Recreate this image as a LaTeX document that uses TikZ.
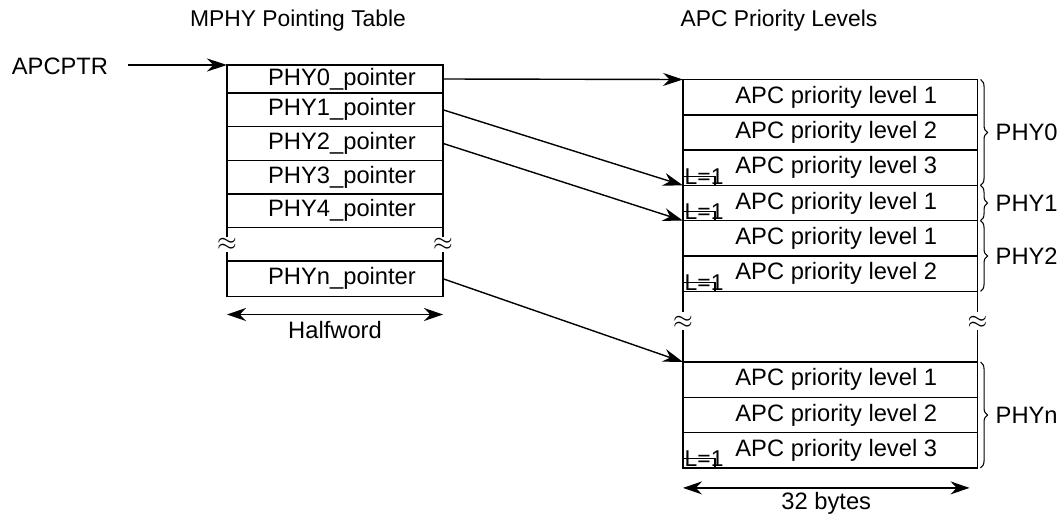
\documentclass[tikz,border=0pt]{standalone}
\usepackage{fontspec}
\setmainfont{Liberation Sans}
\usetikzlibrary{arrows.meta,positioning,calc,decorations.pathreplacing}

\begin{document}
\begin{tikzpicture}[
  x=0.2mm, y=-0.2mm,
  font=\fontsize{13.5}{15}\selectfont,
  line width=0.8pt,
  ptr/.style={rectangle,draw,outer sep=0pt,inner sep=0pt,
              minimum width=43.2mm,minimum height=6.72mm,
              execute at begin node=\hspace*{2.8mm}},
  lvl/.style={rectangle,draw,outer sep=0pt,inner sep=0pt,
              minimum width=58.9mm,minimum height=7.06mm,
              execute at begin node=\hspace*{2.4mm}},
  arr/.style={-{Stealth[length=4mm,width=2.6mm]}},
  dim/.style={{Stealth[length=3.8mm,width=2.6mm]}-{Stealth[length=3.8mm,width=2.6mm]}},
  grp/.style={decorate,decoration={brace,amplitude=4pt},line width=0.6pt},
  brk/.style={font=\fontsize{15}{15}\selectfont},
  flag/.style={font=\fontsize{13}{13}\selectfont,inner sep=0pt}
]
\useasboundingbox (0,0) rectangle (1064,513);
% titles
\node[font=\fontsize{13}{15}\selectfont] (ttl) at (298,21) {MPHY Pointing Table};
\node[font=\fontsize{13}{15}\selectfont] (ttr) at (779,21) {APC Priority Levels};
% pointing table
\node[ptr,minimum height=5.6mm,anchor=north west] (p0) at (227,65) {PHY0\_pointer};
\foreach \i [remember=\i as \j (initially 0)] in {1,...,4}
  \node[ptr,below=0pt of p\j] (p\i) {PHY\i\_pointer};
\node[ptr,minimum height=7.1mm,anchor=north west] (pn) at (227,261) {PHYn\_pointer};
\foreach \s in {west,east}{
  \draw (p4.south \s) -- ++(0,10);
  \draw (pn.north \s) -- ++(0,-9);
  \node[brk] (bkl\s) at ($(p4.south \s)!0.5!(pn.north \s)$) {$\approx$};
}
\node (apc) at (60,66) {APCPTR};
\draw[arr,shorten <=2.6mm] (apc.east |- p0.north west) -- (p0.north west);
% priority levels
\node[lvl,anchor=north west] (a1) at (683,79.5) {APC priority level 1};
\node[lvl,below=0pt of a1] (a2) {APC priority level 2};
\node[lvl,below=0pt of a2] (a3) {APC priority level 3};
\node[lvl,below=0pt of a3] (b1) {APC priority level 1};
\node[lvl,below=0pt of b1] (c1) {APC priority level 1};
\node[lvl,below=0pt of c1] (c2) {APC priority level 2};
\node[lvl,anchor=north west] (n1) at (683,362) {APC priority level 1};
\node[lvl,below=0pt of n1] (n2) {APC priority level 2};
\node[lvl,below=0pt of n2] (n3) {APC priority level 3};
\foreach \s in {west,east}{
  \draw (c2.south \s) -- ++(0,21);
  \draw (n1.north \s) -- ++(0,-32);
  \node[brk] (bkr\s) at ($(c2.south \s)!0.44!(n1.north \s)$) {$\approx$};
}
% last-level flags
\foreach \c in {a3,b1,c2,n3}{
  \draw[line width=0.6pt] (\c.south west) rectangle ++(32,-9);
  \node[flag,anchor=base west] (f\c) at ([shift={(1,-1)}]\c.south west) {L=1};
}
% groups
\draw[grp] ([xshift=0.6mm]a1.north east) -- ([xshift=0.6mm]a3.south east) node[midway,right=5pt] (g0) {PHY0};
\draw[grp] ([xshift=0.6mm]b1.north east) -- ([xshift=0.6mm]b1.south east) node[midway,right=5pt] (g1) {PHY1};
\draw[grp] ([xshift=0.6mm]c1.north east) -- ([xshift=0.6mm]c2.south east) node[midway,right=5pt] (g2) {PHY2};
\draw[grp] ([xshift=0.6mm]n1.north east) -- ([xshift=0.6mm]n3.south east) node[midway,right=5pt] (gn) {PHYn};
% pointers
\draw[arr] (p0.east) -- (a1.north west);
\draw[arr] (p1.east) -- (b1.north west);
\draw[arr] (p2.east) -- (c1.north west);
\draw[arr] (pn.east) -- (n1.north west);
% widths
\draw[dim] ([shift={(0,18)}]pn.south west) -- ([shift={(0,18)}]pn.south east) node[midway,below=0pt] (hw) {Halfword};
\draw[dim] ([shift={(0,20)}]n3.south west) -- ([shift={(-8,20)}]n3.south east) node[midway,below=-1pt] (bw) {32 bytes};
\end{tikzpicture}
\end{document}
